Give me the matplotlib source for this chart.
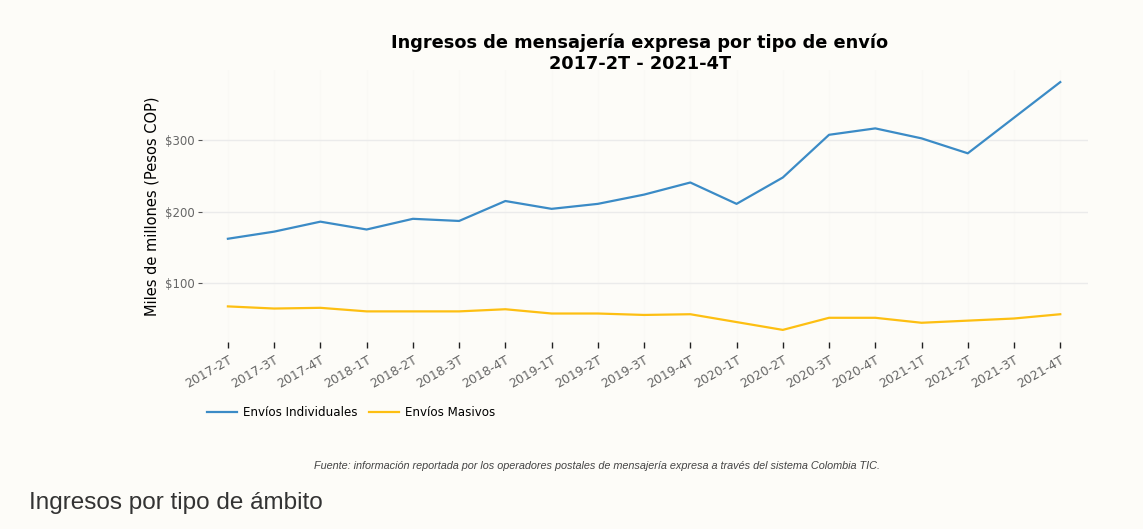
import matplotlib
matplotlib.use("Agg")
import matplotlib.pyplot as plt
from matplotlib.ticker import FuncFormatter, FixedLocator

categories = ["2017-2T", "2017-3T", "2017-4T", "2018-1T", "2018-2T", "2018-3T",
              "2018-4T", "2019-1T", "2019-2T", "2019-3T", "2019-4T", "2020-1T",
              "2020-2T", "2020-3T", "2020-4T", "2021-1T", "2021-2T", "2021-3T",
              "2021-4T"]
individuales = [162, 172, 186, 175, 190, 187, 215, 204, 211, 224, 241, 211,
                248, 308, 317, 303, 282, 332, 382]
masivos = [67, 64, 65, 60, 60, 60, 63, 57, 57, 55, 56, 45,
           34, 51, 51, 44, 47, 50, 56]
y_ticks = [100, 200, 300]

W, H = 1143, 529
BG = "#fdfcf8"
fig = plt.figure(figsize=(W / 100, H / 100), dpi=100, facecolor=BG)

left, right, top, bottom = 202, 1088, 70, 342
ax = fig.add_axes([left / W, 1 - bottom / H, (right - left) / W, (bottom - top) / H])
ax.set_facecolor(BG)

x = list(range(len(categories)))
l1, = ax.plot(x, individuales, color="#3b8bc6", lw=1.6, label="Envíos Individuales")
l2, = ax.plot(x, masivos, color="#fdbf12", lw=1.6, label="Envíos Masivos")

ax.set_xlim(-0.56, len(categories) - 1 + 0.6)
ax.set_ylim(17, 399)

for s in ax.spines.values():
    s.set_visible(False)

ax.yaxis.set_major_locator(FixedLocator(y_ticks))
ax.yaxis.set_major_formatter(FuncFormatter(lambda v, p: f"${int(v)}"))
ax.grid(axis="y", color="#ebebeb", lw=1)
ax.set_xticks(x)
ax.set_xticklabels(categories, rotation=30, ha="right", rotation_mode="anchor",
                   fontsize=9, color="#666666")
for xi in x:
    ax.axvline(xi, color="#faf9f5", lw=0.8, zorder=0)
ax.set_axisbelow(True)
ax.tick_params(axis="y", length=3, width=0.8, color="#555555", labelsize=8.5,
               labelcolor="#666666", pad=2)
ax.tick_params(axis="x", length=4, width=1.0, color="#222222", pad=4)

ax.set_ylabel("Miles de millones (Pesos COP)", fontsize=10.5, color="black", labelpad=4)

fig.text(640 / W, 1 - 43 / H, "Ingresos de mensajería expresa por tipo de envío",
         ha="center", va="center", fontsize=12.8, fontweight="bold", color="black")
fig.text(640 / W, 1 - 64 / H, "2017-2T - 2021-4T",
         ha="center", va="center", fontsize=12.8, fontweight="bold", color="black")

leg = fig.legend(handles=[l1, l2], loc="center left",
                 bbox_to_anchor=(196 / W, 1 - 413 / H), ncol=2, frameon=False,
                 fontsize=8.6, handlelength=2.5, handletextpad=0.5, columnspacing=1.0)

fig.text(597 / W, 1 - 466 / H,
         "Fuente: información reportada por los operadores postales de mensajería expresa a través del sistema Colombia TIC.",
         ha="center", va="center", fontsize=7.8, style="italic", color="#444444",
         family="Liberation Sans")

fig.text(29 / W, 1 - 503 / H, "Ingresos por tipo de ámbito", ha="left", va="center",
         fontsize=17.5, color="#333333", family="Liberation Sans")

fig.savefig("out.png", dpi=100, facecolor=BG)
